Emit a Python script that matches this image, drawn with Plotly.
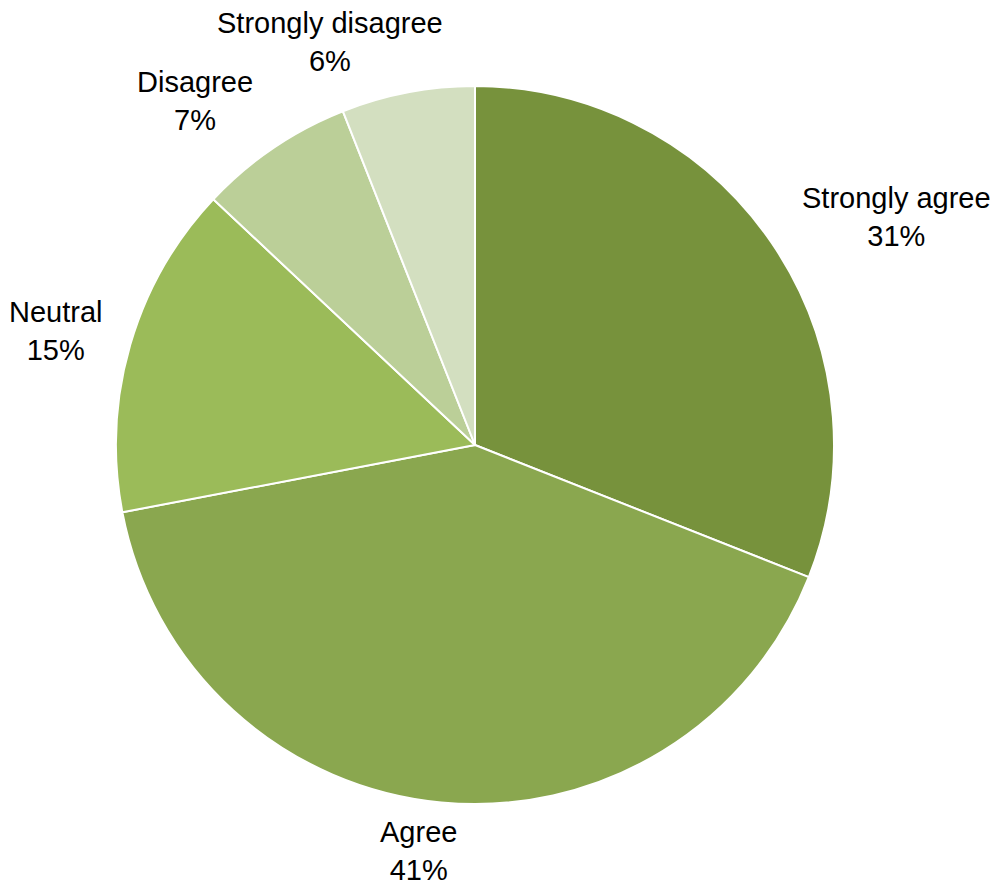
import plotly.graph_objects as go

labels = ["Strongly agree", "Agree", "Neutral", "Disagree", "Strongly disagree"]
values = [31, 41, 15, 7, 6]
pct_text = ["31%", "41%", "15%", "7%", "6%"]
colors = ["#77923C", "#8AA74F", "#9BBB59", "#BBCF98", "#D3DFC0"]

# label centres as seen on the page (pixels)
label_x = [896, 418, 56, 195, 330]
label_y = [217, 851, 331, 101, 42]

PAGE_OFF = 8  # default body margin of the html page
W, H = 990, 873
cx, cy, r = 475 - PAGE_OFF, 445 - PAGE_OFF, 359

fig = go.Figure(go.Pie(
    labels=labels,
    values=values,
    sort=False,
    direction="clockwise",
    rotation=0,
    marker=dict(colors=colors, line=dict(color="white", width=2)),
    textinfo="none",
    automargin=False,
    showlegend=False,
    domain=dict(x=[(cx - r) / W, (cx + r) / W], y=[(H - cy - r) / H, (H - cy + r) / H]),
    hoverinfo="label+percent",
))

for lab, pt, lx, ly in zip(labels, pct_text, label_x, label_y):
    fig.add_annotation(
        x=(lx - PAGE_OFF) / W, y=1 - (ly - PAGE_OFF) / H,
        xref="paper", yref="paper",
        text=f"{lab}<br>{pt}",
        showarrow=False,
        xanchor="center", yanchor="middle", align="center",
        font=dict(family="Liberation Sans, Arial, sans-serif", size=29, color="#000000"),
    )

fig.update_layout(
    width=W, height=H,
    margin=dict(l=0, r=0, t=0, b=0),
    paper_bgcolor="white",
    plot_bgcolor="white",
)

fig.write_html("out.html")
